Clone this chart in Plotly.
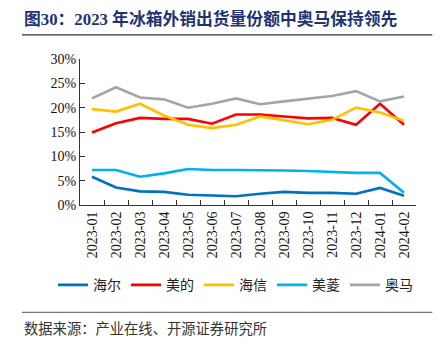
import plotly.graph_objects as go

categories = ["2023-01", "2023-02", "2023-03", "2023-04", "2023-05", "2023-06", "2023-07",
              "2023-08", "2023-09", "2023-10", "2023-11", "2023-12", "2024-01", "2024-02"]
haier = [5.8, 3.6, 2.8, 2.7, 2.1, 1.9, 1.8, 2.3, 2.7, 2.5, 2.5, 2.3, 3.5, 1.9]
midea = [14.9, 16.8, 17.9, 17.7, 17.7, 16.7, 18.6, 18.6, 18.2, 17.8, 17.9, 16.5, 20.8, 16.5]
hisense = [19.7, 19.2, 20.8, 18.4, 16.5, 15.8, 16.5, 18.2, 17.4, 16.6, 17.5, 20.0, 19.0, 17.3]
meiling = [7.2, 7.2, 5.8, 6.5, 7.4, 7.2, 7.2, 7.2, 7.1, 7.0, 6.8, 6.6, 6.6, 2.5]
homa = [21.9, 24.2, 22.1, 21.7, 20.0, 20.8, 21.9, 20.7, 21.3, 21.9, 22.4, 23.4, 21.3, 22.3]

series = [("海尔", haier, "#0070C0"), ("美的", midea, "#FF0000"), ("海信", hisense, "#FFC000"),
          ("美菱", meiling, "#00B0F0"), ("奥马", homa, "#A5A5A5")]

# plot area in pixels
X0, X1, YT, YB = 80, 415.7, 58.7, 204.7
W, H = X1 - X0, YB - YT
def px(x): return (x - X0) / W
def py(y): return (YB - y) / H

fig = go.Figure()
for name, vals, col in series:
    fig.add_trace(go.Scatter(x=categories, y=vals, name=name, mode="lines",
                             line=dict(color=col, width=2.6)))

serif = "Liberation Serif, Times New Roman, serif"
cjk = "Liberation Serif, Noto Sans CJK SC, serif"

fig.update_layout(
    width=440, height=353,
    margin=dict(l=X0, r=440 - X1, t=YT, b=353 - YB, pad=0),
    paper_bgcolor="white", plot_bgcolor="white",
    showlegend=True,
    legend=dict(orientation="h", x=px(53), y=py(285), xanchor="left", yanchor="middle",
                font=dict(family="Noto Sans CJK SC", size=14, color="#222"),
                itemwidth=30, entrywidth=28, entrywidthmode="pixels", tracegroupgap=0),
    xaxis=dict(type="category", range=[-0.5, 13.5], showline=True, linecolor="#333", linewidth=1,
               ticks="inside", ticklen=5, tickcolor="#333", tickson="boundaries",
               tickangle=-90, tickfont=dict(family=serif, size=14, color="#111"),
               showgrid=False, zeroline=False),
    yaxis=dict(range=[0, 30], dtick=5, ticksuffix="%", showline=True, linecolor="#333", linewidth=1,
               ticks="inside", ticklen=5, tickcolor="#333",
               tickfont=dict(family=serif, size=14, color="#111"),
               showgrid=False, zeroline=False),
    annotations=[
        dict(text="<b>图30：2023 年冰箱外销出货量份额中奥马保持领先</b>", xref="paper", yref="paper",
             x=px(22), y=py(19), xanchor="left", yanchor="middle", showarrow=False,
             font=dict(family=cjk, size=16.8, color="#1F3275")),
        dict(text="数据来源：产业在线、开源证券研究所", xref="paper", yref="paper",
             x=px(22), y=py(327), xanchor="left", yanchor="middle", showarrow=False,
             font=dict(family="Noto Sans CJK SC", size=14.3, color="#333")),
    ],
    shapes=[
        dict(type="line", xref="paper", yref="paper", x0=px(22), x1=px(432), y0=py(34.5), y1=py(34.5),
             line=dict(color="#333", width=1.2)),
        dict(type="line", xref="paper", yref="paper", x0=px(22), x1=px(432), y0=py(312), y1=py(312),
             line=dict(color="#777", width=1.2)),
    ],
)

fig.write_html("out.html")
